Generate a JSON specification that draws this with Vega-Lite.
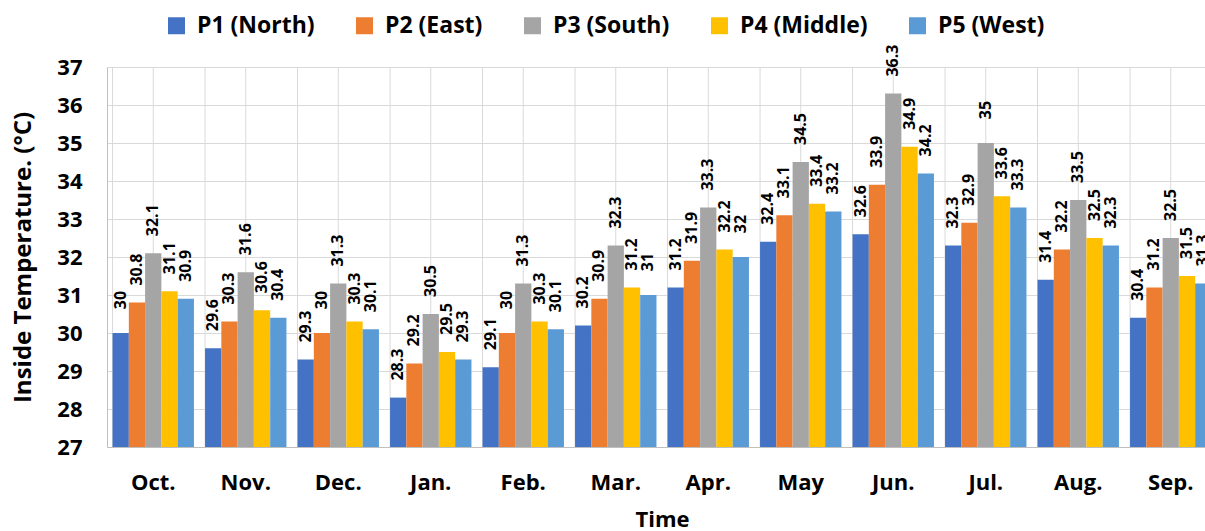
{
  "$schema": "https://vega.github.io/schema/vega-lite/v6.json",
  "autosize": {"type": "none"},
  "padding": {"left": 107, "top": 67, "right": 0, "bottom": 84},
  "width": 1098,
  "height": 380,
  "config": {
    "font": "Open Sans",
    "view": {"stroke": null},
    "axis": {"labelFont": "Open Sans", "titleFont": "Open Sans", "labelFontWeight": "bold", "titleFontWeight": "bold", "labelColor": "#000000", "titleColor": "#000000"}
  },
  "datasets": {
    "temps": [
      {"month": "Oct.", "series": "P1 (North)", "value": 30},
      {"month": "Oct.", "series": "P2 (East)", "value": 30.8},
      {"month": "Oct.", "series": "P3 (South)", "value": 32.1},
      {"month": "Oct.", "series": "P4 (Middle)", "value": 31.1},
      {"month": "Oct.", "series": "P5 (West)", "value": 30.9},
      {"month": "Nov.", "series": "P1 (North)", "value": 29.6},
      {"month": "Nov.", "series": "P2 (East)", "value": 30.3},
      {"month": "Nov.", "series": "P3 (South)", "value": 31.6},
      {"month": "Nov.", "series": "P4 (Middle)", "value": 30.6},
      {"month": "Nov.", "series": "P5 (West)", "value": 30.4},
      {"month": "Dec.", "series": "P1 (North)", "value": 29.3},
      {"month": "Dec.", "series": "P2 (East)", "value": 30},
      {"month": "Dec.", "series": "P3 (South)", "value": 31.3},
      {"month": "Dec.", "series": "P4 (Middle)", "value": 30.3},
      {"month": "Dec.", "series": "P5 (West)", "value": 30.1},
      {"month": "Jan.", "series": "P1 (North)", "value": 28.3},
      {"month": "Jan.", "series": "P2 (East)", "value": 29.2},
      {"month": "Jan.", "series": "P3 (South)", "value": 30.5},
      {"month": "Jan.", "series": "P4 (Middle)", "value": 29.5},
      {"month": "Jan.", "series": "P5 (West)", "value": 29.3},
      {"month": "Feb.", "series": "P1 (North)", "value": 29.1},
      {"month": "Feb.", "series": "P2 (East)", "value": 30},
      {"month": "Feb.", "series": "P3 (South)", "value": 31.3},
      {"month": "Feb.", "series": "P4 (Middle)", "value": 30.3},
      {"month": "Feb.", "series": "P5 (West)", "value": 30.1},
      {"month": "Mar.", "series": "P1 (North)", "value": 30.2},
      {"month": "Mar.", "series": "P2 (East)", "value": 30.9},
      {"month": "Mar.", "series": "P3 (South)", "value": 32.3},
      {"month": "Mar.", "series": "P4 (Middle)", "value": 31.2},
      {"month": "Mar.", "series": "P5 (West)", "value": 31},
      {"month": "Apr.", "series": "P1 (North)", "value": 31.2},
      {"month": "Apr.", "series": "P2 (East)", "value": 31.9},
      {"month": "Apr.", "series": "P3 (South)", "value": 33.3},
      {"month": "Apr.", "series": "P4 (Middle)", "value": 32.2},
      {"month": "Apr.", "series": "P5 (West)", "value": 32},
      {"month": "May", "series": "P1 (North)", "value": 32.4},
      {"month": "May", "series": "P2 (East)", "value": 33.1},
      {"month": "May", "series": "P3 (South)", "value": 34.5},
      {"month": "May", "series": "P4 (Middle)", "value": 33.4},
      {"month": "May", "series": "P5 (West)", "value": 33.2},
      {"month": "Jun.", "series": "P1 (North)", "value": 32.6},
      {"month": "Jun.", "series": "P2 (East)", "value": 33.9},
      {"month": "Jun.", "series": "P3 (South)", "value": 36.3},
      {"month": "Jun.", "series": "P4 (Middle)", "value": 34.9},
      {"month": "Jun.", "series": "P5 (West)", "value": 34.2},
      {"month": "Jul.", "series": "P1 (North)", "value": 32.3},
      {"month": "Jul.", "series": "P2 (East)", "value": 32.9},
      {"month": "Jul.", "series": "P3 (South)", "value": 35},
      {"month": "Jul.", "series": "P4 (Middle)", "value": 33.6},
      {"month": "Jul.", "series": "P5 (West)", "value": 33.3},
      {"month": "Aug.", "series": "P1 (North)", "value": 31.4},
      {"month": "Aug.", "series": "P2 (East)", "value": 32.2},
      {"month": "Aug.", "series": "P3 (South)", "value": 33.5},
      {"month": "Aug.", "series": "P4 (Middle)", "value": 32.5},
      {"month": "Aug.", "series": "P5 (West)", "value": 32.3},
      {"month": "Sep.", "series": "P1 (North)", "value": 30.4},
      {"month": "Sep.", "series": "P2 (East)", "value": 31.2},
      {"month": "Sep.", "series": "P3 (South)", "value": 32.5},
      {"month": "Sep.", "series": "P4 (Middle)", "value": 31.5},
      {"month": "Sep.", "series": "P5 (West)", "value": 31.3}
    ],
    "months": [
      {"month": "Oct."}, {"month": "Nov."}, {"month": "Dec."}, {"month": "Jan."},
      {"month": "Feb."}, {"month": "Mar."}, {"month": "Apr."}, {"month": "May"},
      {"month": "Jun."}, {"month": "Jul."}, {"month": "Aug."}, {"month": "Sep."}
    ]
  },
  "layer": [
    {
      "data": {"name": "months"},
      "mark": {"type": "rule", "color": "#d9d9d9", "strokeWidth": 1},
      "encoding": {
        "x": {"field": "month", "type": "nominal", "bandPosition": 0,
              "sort": ["Oct.", "Nov.", "Dec.", "Jan.", "Feb.", "Mar.", "Apr.", "May", "Jun.", "Jul.", "Aug.", "Sep."],
              "scale": {"range": [0, 1110], "paddingInner": 0.12, "paddingOuter": 0.06},
              "axis": {"title": "Time", "labelAngle": 0, "labelAlign": "center", "bandPosition": 0.5, "labelFontSize": 22, "titleFontSize": 22, "labelPadding": 25, "titlePadding": 16, "ticks": false, "grid": false, "domainColor": "#bfbfbf"}}
      }
    },
    {
      "data": {"name": "months"},
      "mark": {"type": "rule", "color": "#d9d9d9", "strokeWidth": 1},
      "encoding": {
        "x": {"field": "month", "type": "nominal", "bandPosition": 0.5,
              "sort": ["Oct.", "Nov.", "Dec.", "Jan.", "Feb.", "Mar.", "Apr.", "May", "Jun.", "Jul.", "Aug.", "Sep."]}
      }
    },
    {
      "data": {"name": "temps"},
      "mark": {"type": "bar"},
      "encoding": {
        "x": {
          "field": "month", "type": "nominal",
          "sort": ["Oct.", "Nov.", "Dec.", "Jan.", "Feb.", "Mar.", "Apr.", "May", "Jun.", "Jul.", "Aug.", "Sep."]
        },
        "xOffset": {"field": "series", "type": "nominal", "scale": {"paddingInner": 0, "paddingOuter": 0}},
        "y": {
          "field": "value", "type": "quantitative",
          "scale": {"domain": [27, 37], "zero": false, "nice": false},
          "axis": {"title": "Inside Temperature. (°C)", "values": [27, 28, 29, 30, 31, 32, 33, 34, 35, 36, 37], "tickCount": 20, "format": "d", "labelOverlap": false, "labelFontSize": 22, "titleFontSize": 24, "labelPadding": 25, "titlePadding": 21, "ticks": false, "grid": true, "gridColor": "#d9d9d9", "domainColor": "#bfbfbf"}
        },
        "y2": {"datum": 27},
        "color": {
          "field": "series", "type": "nominal",
          "scale": {"domain": ["P1 (North)", "P2 (East)", "P3 (South)", "P4 (Middle)", "P5 (West)"], "range": ["#4472C4", "#ED7D31", "#A5A5A5", "#FFC000", "#5B9BD5"]},
          "legend": {"title": null, "orient": "none", "legendX": 58, "legendY": -53, "direction": "horizontal", "symbolType": "square", "symbolSize": 289, "symbolStrokeWidth": 0, "labelFont": "Open Sans", "labelFontWeight": "bold", "labelFontSize": 23, "labelColor": "#000000", "labelOffset": 9, "columnPadding": 38, "labelLimit": 300}
        }
      }
    },
    {
      "data": {"name": "temps"},
      "mark": {"type": "text", "angle": 270, "align": "center", "baseline": "middle", "dx": 33, "fontSize": 16, "fontWeight": "bold", "color": "#000000", "font": "Open Sans"},
      "encoding": {
        "x": {"field": "month", "type": "nominal",
              "sort": ["Oct.", "Nov.", "Dec.", "Jan.", "Feb.", "Mar.", "Apr.", "May", "Jun.", "Jul.", "Aug.", "Sep."]},
        "xOffset": {"field": "series", "type": "nominal"},
        "y": {"field": "value", "type": "quantitative",
              "axis": {"title": "Inside Temperature. (°C)", "values": [27, 28, 29, 30, 31, 32, 33, 34, 35, 36, 37], "tickCount": 20, "format": "d", "labelOverlap": false, "labelFontSize": 22, "titleFontSize": 24, "labelPadding": 25, "titlePadding": 21, "ticks": false, "grid": true, "gridColor": "#d9d9d9", "domainColor": "#bfbfbf"}},
        "text": {"field": "value", "type": "quantitative", "format": ".3~g"}
      }
    }
  ]
}
